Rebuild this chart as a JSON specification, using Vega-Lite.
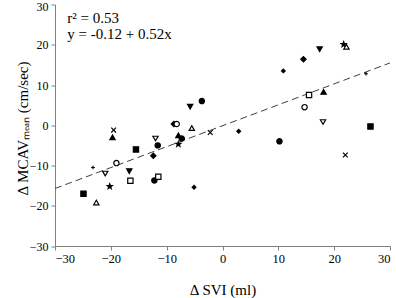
{
  "$schema": "https://vega.github.io/schema/vega-lite/v6.json",
  "width": 335,
  "height": 241.5,
  "autosize": "none",
  "padding": {"left": 55, "top": 4.5, "right": 6, "bottom": 52},
  "config": {
    "view": {"stroke": null},
    "font": "Liberation Serif",
    "axis": {
      "grid": false,
      "domainColor": "#808080",
      "tickColor": "#808080",
      "tickSize": 4,
      "labelFont": "Liberation Serif",
      "labelFontSize": 12.5,
      "labelColor": "#000000",
      "titleFont": "Liberation Serif",
      "titleFontSize": 15,
      "titleFontWeight": "normal",
      "titleColor": "#000000"
    }
  },
  "datasets": {
    "pts": [
      {"svi": -19.5, "mcav": -1.2, "marker": "x", "fill": "solid"},
      {"svi": -19.7, "mcav": -3.0, "marker": "up", "fill": "solid"},
      {"svi": -15.5, "mcav": -6.0, "marker": "square", "fill": "solid"},
      {"svi": -12.0, "mcav": -3.3, "marker": "down", "fill": "open"},
      {"svi": -11.6, "mcav": -5.0, "marker": "circle", "fill": "solid"},
      {"svi": -12.4, "mcav": -7.6, "marker": "diamond", "fill": "solid"},
      {"svi": -23.2, "mcav": -10.5, "marker": "plus", "fill": "solid"},
      {"svi": -19.0, "mcav": -9.4, "marker": "circle", "fill": "open"},
      {"svi": -21.0, "mcav": -12.0, "marker": "down", "fill": "open"},
      {"svi": -16.7, "mcav": -11.4, "marker": "down", "fill": "solid"},
      {"svi": -16.5, "mcav": -13.8, "marker": "square", "fill": "open"},
      {"svi": -12.2, "mcav": -13.7, "marker": "circle", "fill": "solid"},
      {"svi": -11.5, "mcav": -12.8, "marker": "square", "fill": "open"},
      {"svi": -20.2, "mcav": -15.2, "marker": "star", "fill": "solid"},
      {"svi": -24.9, "mcav": -17.0, "marker": "square", "fill": "solid"},
      {"svi": -22.6, "mcav": -19.2, "marker": "up", "fill": "open"},
      {"svi": -8.7, "mcav": 0.3, "marker": "diamond", "fill": "solid"},
      {"svi": -8.2, "mcav": 0.3, "marker": "circle", "fill": "open"},
      {"svi": -3.7, "mcav": 6.0, "marker": "circle", "fill": "solid"},
      {"svi": -5.8, "mcav": 4.6, "marker": "down", "fill": "solid"},
      {"svi": -5.5, "mcav": -0.7, "marker": "up", "fill": "open"},
      {"svi": -7.9, "mcav": -2.5, "marker": "up", "fill": "solid"},
      {"svi": -7.3, "mcav": -3.3, "marker": "circle", "fill": "solid"},
      {"svi": -7.9, "mcav": -4.7, "marker": "star", "fill": "solid"},
      {"svi": -2.2, "mcav": -1.8, "marker": "x", "fill": "solid"},
      {"svi": 2.9, "mcav": -1.5, "marker": "dot", "fill": "solid"},
      {"svi": -5.1, "mcav": -15.4, "marker": "dot", "fill": "solid"},
      {"svi": 10.2, "mcav": -4.0, "marker": "circle", "fill": "solid"},
      {"svi": 22.0, "mcav": -7.4, "marker": "x", "fill": "solid"},
      {"svi": 26.5, "mcav": -0.3, "marker": "square", "fill": "solid"},
      {"svi": 18.0, "mcav": 0.8, "marker": "down", "fill": "open"},
      {"svi": 17.4, "mcav": 18.9, "marker": "down", "fill": "solid"},
      {"svi": 21.7, "mcav": 20.1, "marker": "star", "fill": "solid"},
      {"svi": 22.2, "mcav": 19.5, "marker": "up", "fill": "open"},
      {"svi": 14.5, "mcav": 16.4, "marker": "diamond", "fill": "solid"},
      {"svi": 10.9, "mcav": 13.5, "marker": "dot", "fill": "solid"},
      {"svi": 25.7, "mcav": 12.8, "marker": "plus", "fill": "solid"},
      {"svi": 15.5, "mcav": 7.5, "marker": "square", "fill": "open"},
      {"svi": 18.1, "mcav": 8.3, "marker": "up", "fill": "solid"},
      {"svi": 14.7, "mcav": 4.5, "marker": "circle", "fill": "open"}
    ],
    "fit": [
      {"svi": -30, "mcav": -15.72},
      {"svi": 30, "mcav": 15.48}
    ],
    "notes": [
      {"svi": -27.8, "mcav": 25.4, "label": "r² = 0.53"},
      {"svi": -27.8, "mcav": 21.5, "label": "y = -0.12 + 0.52x"}
    ]
  },
  "layer": [
    {
      "data": {"name": "fit"},
      "mark": {"type": "line", "color": "#404040", "strokeWidth": 1, "strokeDash": [7, 4], "clip": true},
      "encoding": {
        "x": {
          "field": "svi", "type": "quantitative",
          "scale": {"domain": [-30, 30], "nice": false, "zero": false},
          "axis": {
            "values": [-30, -20, -10, 0, 10, 20, 30],
            "labelPadding": 2,
            "title": "Δ SVI (ml)",
            "titleAnchor": "middle",
            "titleX": 167.5,
            "titleY": 48.5,
            "titleBaseline": "alphabetic"
          }
        },
        "y": {
          "field": "mcav", "type": "quantitative",
          "scale": {"domain": [-30, 30], "nice": false, "zero": false},
          "axis": {
            "values": [-30, -20, -10, 0, 10, 20, 30],
            "labelPadding": 3,
            "labelFontSize": 12,
            "labelOffset": {"condition": {"test": "datum.value == 30", "value": 1.5}, "value": 0},
            "title": "Δ MCAVₘₑₐₙ (cm/sec)",
            "titleX": -28,
            "titleY": 123.5,
            "titleAlign": "center",
            "titleAngle": -90,
            "titleBaseline": "alphabetic"
          }
        }
      }
    },
    {
      "data": {"name": "pts"},
      "mark": {"type": "point", "filled": false, "stroke": "#000000", "strokeWidth": 1.2, "size": 28, "opacity": 1},
      "encoding": {
        "x": {"field": "svi", "type": "quantitative"},
        "y": {"field": "mcav", "type": "quantitative"},
        "shape": {
          "field": "marker", "type": "nominal", "legend": null,
          "scale": {
            "domain": ["circle", "square", "up", "down", "diamond", "x", "star", "plus", "dot"],
            "range": [
              "circle",
              "square",
              "triangle-up",
              "triangle-down",
              "diamond",
              "M-0.9,-0.9L0.9,0.9M-0.9,0.9L0.9,-0.9",
              "M0,-1L0.24,-0.33L0.95,-0.31L0.38,0.12L0.59,0.81L0,0.4L-0.59,0.81L-0.38,0.12L-0.95,-0.31L-0.24,-0.33Z",
              "M-0.7,0L0.7,0M0,-0.7L0,0.7",
              "M0,-0.7L0.7,0L0,0.7L-0.7,0Z"
            ]
          }
        },
        "fill": {
          "field": "fill", "type": "nominal", "legend": null,
          "scale": {"domain": ["solid", "open"], "range": ["#000000", "#ffffff"]}
        }
      }
    },
    {
      "data": {"name": "notes"},
      "mark": {"type": "text", "align": "left", "baseline": "alphabetic", "font": "Liberation Serif", "fontSize": 15, "color": "#000000"},
      "encoding": {
        "x": {"field": "svi", "type": "quantitative"},
        "y": {"field": "mcav", "type": "quantitative"},
        "text": {"field": "label", "type": "nominal"}
      }
    }
  ]
}
